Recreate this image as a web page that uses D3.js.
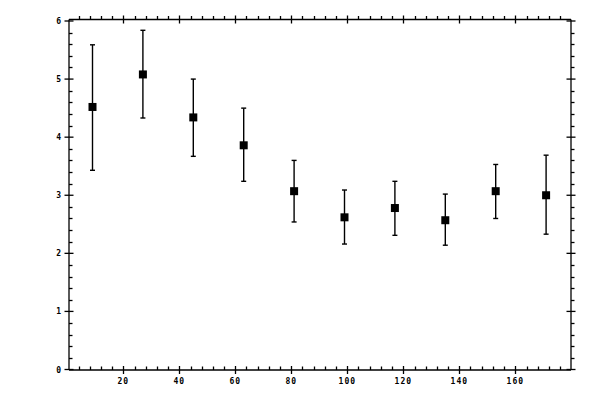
<!DOCTYPE html>
<html>
<head>
<meta charset="utf-8">
<script src="https://cdn.jsdelivr.net/npm/d3@7"></script>
<style>
  body { margin: 0; background: #fff; }
  svg { display: block; }
  text { font-family: "DejaVu Sans Mono", monospace; font-size: 8px; font-weight: bold; fill: #000; }
</style>
</head>
<body>
<svg width="600" height="400"></svg>
<script>
// data
var xValues = [9, 27, 45, 63, 81, 99, 117, 135, 153, 171];
var yMeans  = [4.52, 5.08, 4.34, 3.86, 3.07, 2.62, 2.78, 2.57, 3.07, 3.00];
var yLower  = [3.43, 4.33, 3.67, 3.24, 2.54, 2.16, 2.31, 2.14, 2.60, 2.33];
var yUpper  = [5.59, 5.84, 5.00, 4.50, 3.60, 3.09, 3.24, 3.02, 3.53, 3.69];

var xTicks = [20, 40, 60, 80, 100, 120, 140, 160];
var yTicks = [0, 1, 2, 3, 4, 5, 6];

var svg = d3.select("svg");

// frame edges (note: "top" is taken by window.top)
var frameL = 69, frameR = 571, frameT = 19.5, frameB = 370;

var x = d3.scaleLinear().domain([0, 180]).range([67.3, 571.3]);
var y = d3.scaleLinear().domain([0, 6]).range([369.5, 21]);

// minor ticks every 4 on x, every 0.2 on y
var xMinor = d3.range(4, 180, 4).filter(function(d) { return d % 20 != 0; });
var yMinor = d3.range(1, 30).map(function(d) { return d / 5; }).filter(function(d, i) { return (i + 1) % 5 != 0; });

var axes = svg.append("g").attr("stroke", "#000").attr("stroke-width", 1.3);

// frame
axes.append("line").attr("x1", frameL).attr("x2", frameR).attr("y1", frameB).attr("y2", frameB);
axes.append("line").attr("x1", frameL).attr("x2", frameR).attr("y1", frameT).attr("y2", frameT);
axes.append("line").attr("x1", frameL).attr("x2", frameL).attr("y1", frameT).attr("y2", frameB);
axes.append("line").attr("x1", frameR).attr("x2", frameR).attr("y1", frameT).attr("y2", frameB);

// x major ticks (cross the line), bottom and top
[frameB, frameT].forEach(function(yy) {
    axes.selectAll(null).data(xTicks).enter().append("line")
        .attr("x1", function(d) { return Math.round(x(d)) + 0.5; })
        .attr("x2", function(d) { return Math.round(x(d)) + 0.5; })
        .attr("y1", yy - 4).attr("y2", yy + 4);
    // minor ticks point upward
    axes.selectAll(null).data(xMinor).enter().append("line")
        .attr("x1", function(d) { return Math.round(x(d)) + 0.5; })
        .attr("x2", function(d) { return Math.round(x(d)) + 0.5; })
        .attr("y1", yy - 3.5).attr("y2", yy);
});

// y ticks, left and right
[frameL, frameR].forEach(function(xx) {
    axes.selectAll(null).data(yTicks).enter().append("line")
        .attr("y1", function(d) { return y(d); })
        .attr("y2", function(d) { return y(d); })
        .attr("x1", xx - 4.5).attr("x2", xx + 4.5);
    // minor ticks point right
    axes.selectAll(null).data(yMinor).enter().append("line")
        .attr("y1", function(d) { return Math.round(y(d)) + 0.5; })
        .attr("y2", function(d) { return Math.round(y(d)) + 0.5; })
        .attr("x1", xx).attr("x2", xx + 3.5);
});

// tick labels
svg.selectAll(".xlab").data(xTicks).enter().append("text")
    .attr("class", "xlab")
    .attr("x", function(d) { return x(d); })
    .attr("y", 384)
    .attr("text-anchor", "middle")
    .attr("letter-spacing", "1px")
    .text(function(d) { return d; });

svg.selectAll(".ylab").data(yTicks).enter().append("text")
    .attr("class", "ylab")
    .attr("x", 61)
    .attr("y", function(d) { return y(d) + 3; })
    .attr("text-anchor", "end")
    .text(function(d) { return d; });

// error bars
var bars = svg.append("g").attr("stroke", "#000").attr("stroke-width", 1.4);
bars.selectAll(".err").data(xValues).enter().append("line")
    .attr("x1", function(d) { return x(d); })
    .attr("x2", function(d) { return x(d); })
    .attr("y1", function(d, i) { return y(yLower[i]); })
    .attr("y2", function(d, i) { return y(yUpper[i]); });

[yLower, yUpper].forEach(function(arr) {
    bars.selectAll(null).data(xValues).enter().append("line")
        .attr("x1", function(d) { return x(d) - 2.5; })
        .attr("x2", function(d) { return x(d) + 2.5; })
        .attr("y1", function(d, i) { return y(arr[i]); })
        .attr("y2", function(d, i) { return y(arr[i]); });
});

// square markers
var size = 8;
svg.selectAll(".pt").data(xValues).enter().append("rect")
    .attr("class", "pt")
    .attr("x", function(d) { return x(d) - size / 2; })
    .attr("y", function(d, i) { return y(yMeans[i]) - size / 2; })
    .attr("width", size)
    .attr("height", size)
    .attr("fill", "#000");
</script>
</body>
</html>
